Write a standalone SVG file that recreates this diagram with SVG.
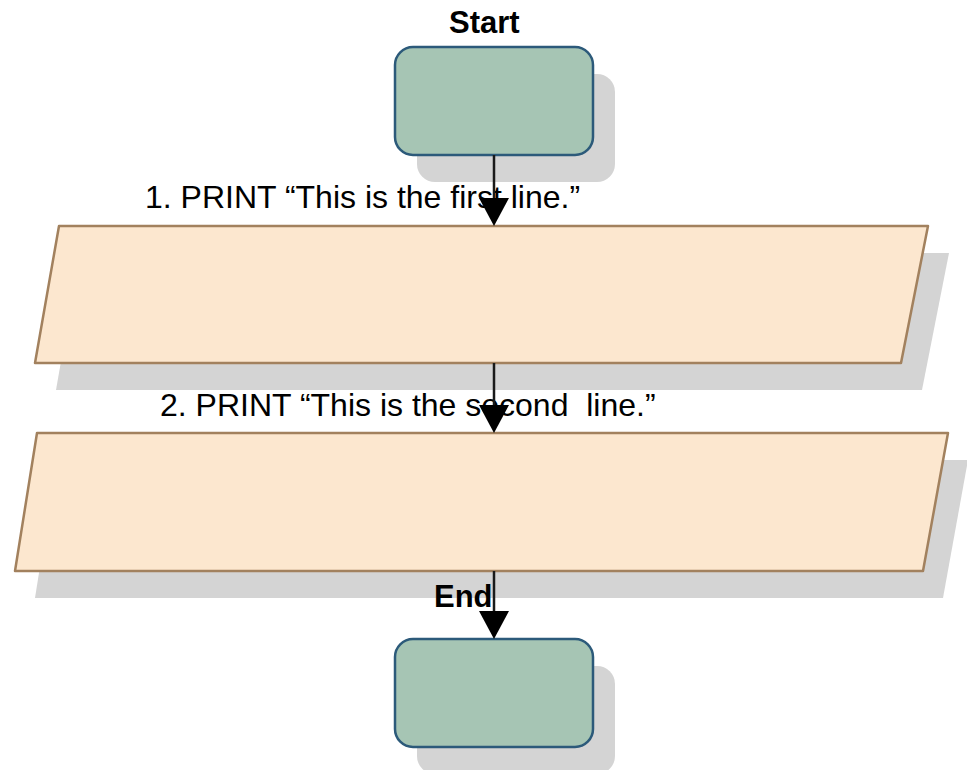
<svg xmlns="http://www.w3.org/2000/svg" width="967" height="770" viewBox="0 0 967 770">
  <defs>
    <style>
      .shadow { fill: #d4d4d4; stroke: none; }
      .terminal { fill: #a6c5b4; stroke: #2c5a7a; stroke-width: 2.5; }
      .io { fill: #fce7cf; stroke: #a2815e; stroke-width: 2.5; stroke-linejoin: round; }
      .label { font-family: "Liberation Sans", Arial, sans-serif; font-size: 32px; fill: #000; }
      .bold { font-weight: bold; font-size: 31px; }
      .edge { stroke: #1a1a1a; stroke-width: 2.5; fill: none; }
      .head { fill: #000; }
    </style>
  </defs>
  <rect width="967" height="770" fill="#ffffff"/>

  <!-- Start terminal -->
  <g id="start">
    <rect class="shadow" x="417" y="74" width="198" height="108" rx="18"/>
    <rect class="terminal" x="395" y="47" width="198" height="108" rx="18"/>
    <text class="label bold" x="449" y="33">Start</text>
  </g>

  <!-- Output step 1 -->
  <g id="print1">
    <polygon class="shadow" points="80,253 949,253 922,390 56,390"/>
    <polygon class="io" points="59,226 928,226 901,363 35,363"/>
  </g>

  <!-- Output step 2 -->
  <g id="print2">
    <polygon class="shadow" points="57,460 968,460 943,598 35,598"/>
    <polygon class="io" points="37,433 948,433 923,571 15,571"/>
  </g>

  <!-- End terminal -->
  <g id="end">
    <rect class="shadow" x="417" y="666" width="198" height="108" rx="18"/>
    <rect class="terminal" x="395" y="639" width="198" height="108" rx="18"/>
  </g>

  <!-- Connector labels (drawn beneath the connectors) -->
  <g id="labels">
    <text class="label" x="145" y="208">1. PRINT “This is the first line.”</text>
    <text class="label" x="160" y="416" xml:space="preserve">2. PRINT “This is the second  line.”</text>
    <text class="label bold" x="434" y="607">End</text>
  </g>

  <!-- Connectors -->
  <g id="connectors">
    <line class="edge" x1="494" y1="155" x2="494" y2="205"/>
    <polygon class="head" points="479,198 509,198 494,226"/>
    <line class="edge" x1="494" y1="363" x2="494" y2="412"/>
    <polygon class="head" points="479,405 509,405 494,433"/>
    <line class="edge" x1="494" y1="571" x2="494" y2="618"/>
    <polygon class="head" points="479,611 509,611 494,639"/>
  </g>
</svg>
